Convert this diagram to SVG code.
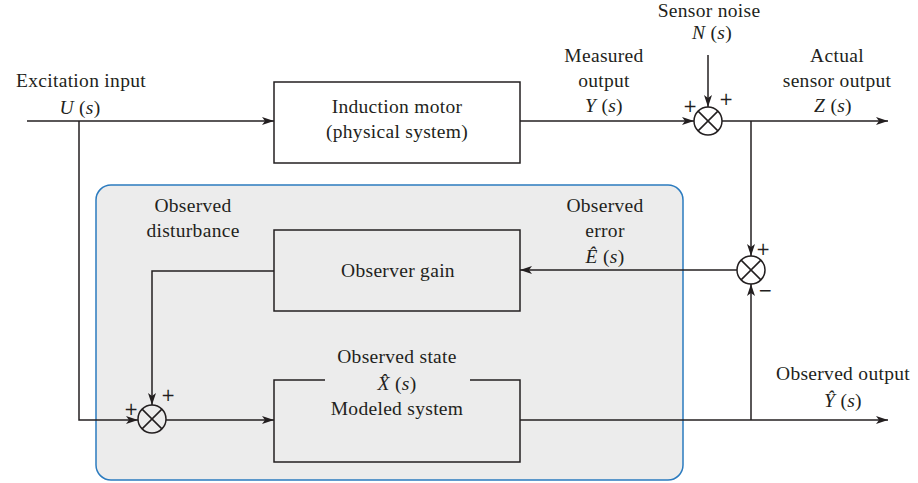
<svg xmlns="http://www.w3.org/2000/svg" width="918" height="483" viewBox="0 0 918 483">
<style>
text{font-family:"Liberation Serif","Times New Roman",serif;font-size:19.5px;fill:#231f20;text-anchor:middle;letter-spacing:0.3px}
.i{font-style:italic}
.pm{font-family:"DejaVu Sans",sans-serif;font-size:17px;letter-spacing:0}
.box{fill:none;stroke:#231f20;stroke-width:1.5}
.ln{fill:none;stroke:#231f20;stroke-width:1.5}
.arr{marker-end:url(#ah)}
.sum{fill:#fff;stroke:#231f20;stroke-width:1.5}
.sumin{fill:#ececec;stroke:#231f20;stroke-width:1.5}
</style>
<defs>
<marker id="ah" viewBox="0 0 12 8" refX="12" refY="4" markerWidth="12" markerHeight="8" markerUnits="userSpaceOnUse" orient="auto">
<path d="M0,0 L12,4 L0,8 L3,4 Z" fill="#231f20"/>
</marker>
</defs>
<rect id="observer-panel" x="96" y="185" width="587" height="295" rx="15" fill="#ececec" stroke="#2b7bbf" stroke-width="1.5"/>
<g id="labels">
<text x="81" y="87">Excitation input</text>
<text x="80" y="114"><tspan class="i">U</tspan> (<tspan class="i">s</tspan>)</text>
<text x="604" y="62">Measured</text>
<text x="604" y="87">output</text>
<text x="604" y="112"><tspan class="i">Y</tspan> (<tspan class="i">s</tspan>)</text>
<text x="709" y="17">Sensor noise</text>
<text x="712" y="39"><tspan class="i">N</tspan> (<tspan class="i">s</tspan>)</text>
<text x="837" y="62">Actual</text>
<text x="837" y="87">sensor output</text>
<text x="833" y="112"><tspan class="i">Z</tspan> (<tspan class="i">s</tspan>)</text>
<text x="193" y="212">Observed</text>
<text x="193" y="237">disturbance</text>
<text x="605" y="212">Observed</text>
<text x="605" y="237">error</text>
<text x="605" y="263"><tspan class="i">Ê</tspan> (<tspan class="i">s</tspan>)</text>
<text x="843" y="380">Observed output</text>
<text x="843" y="407"><tspan class="i">Ŷ</tspan> (<tspan class="i">s</tspan>)</text>
</g>
<g id="induction-motor">
<rect class="box" x="274" y="82" width="246" height="81" fill="#fff"/>
<text x="397" y="113">Induction motor</text>
<text x="397" y="138">(physical system)</text>
</g>
<g id="observer-gain">
<rect class="box" x="274" y="230" width="246" height="81"/>
<text x="398" y="277">Observer gain</text>
</g>
<g id="modeled-system">
<path class="box" d="M325,380 H274 V462 H520 V380 H470"/>
<text x="397" y="363">Observed state</text>
<text x="397" y="390"><tspan class="i">X̂</tspan> (<tspan class="i">s</tspan>)</text>
<text x="397" y="415">Modeled system</text>
</g>
<g id="sum-noise">
<circle class="sum" cx="708" cy="121" r="14"/>
<path class="ln" d="M698.1,111.1 L717.9,130.9 M717.9,111.1 L698.1,130.9"/>
<text class="pm" x="690" y="112">+</text>
<text class="pm" x="726" y="105">+</text>
</g>
<g id="sum-error">
<circle class="sum" cx="751" cy="270" r="14"/>
<path class="ln" d="M741.1,260.1 L760.9,279.9 M760.9,260.1 L741.1,279.9"/>
<text class="pm" x="763" y="255">+</text>
<text class="pm" x="765" y="296">−</text>
</g>
<g id="sum-observer">
<circle class="sumin" cx="152" cy="419" r="14"/>
<path class="ln" d="M142.1,409.1 L161.9,428.9 M161.9,409.1 L142.1,428.9"/>
<text class="pm" x="131" y="415">+</text>
<text class="pm" x="168" y="401">+</text>
</g>
<g id="connectors">
<path class="ln arr" d="M27,121 H274"/>
<path class="ln arr" d="M520,121 H694"/>
<path class="ln arr" d="M708,55 V107"/>
<path class="ln arr" d="M722,121 H888"/>
<path class="ln arr" d="M751,121 V256"/>
<path class="ln arr" d="M737,270 H520"/>
<path class="ln arr" d="M274,271 H152 V405"/>
<path class="ln arr" d="M79,121 V420 H138"/>
<path class="ln arr" d="M166,420 H274"/>
<path class="ln arr" d="M520,420 H888"/>
<path class="ln arr" d="M751,420 V284"/>
</g>
</svg>
